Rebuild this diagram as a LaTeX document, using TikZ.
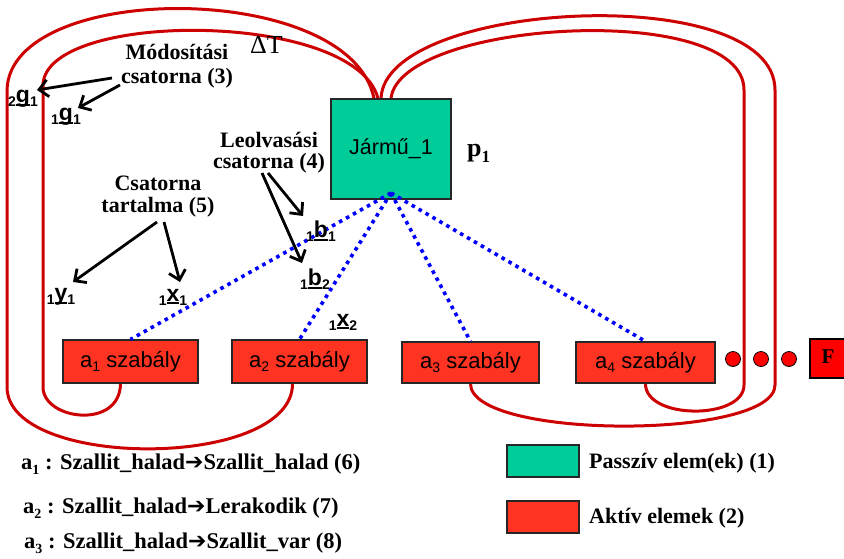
\documentclass[tikz,border=0pt]{standalone}
\usepackage{fontspec}
\setmainfont{Liberation Serif}
\newfontfamily\arialf{Liberation Sans}
\newfontfamily\dejavuf{DejaVu Sans}
\usetikzlibrary{arrows.meta,calc}
\definecolor{loopred}{RGB}{204,0,0}
\definecolor{boxred}{RGB}{255,51,34}
\definecolor{boxgreen}{RGB}{0,204,153}
\definecolor{pureRed}{RGB}{255,0,0}
\definecolor{dotblue}{RGB}{0,0,255}
\newcommand\ulx[1]{\setbox0=\hbox{#1}\rlap{\rule[-3.2pt]{\wd0}{1.9pt}}\box0}
\newcommand\sublab[3]{{\fontsize{14}{14}\selectfont\raisebox{-4pt}{#1}}\ulx{#2}{\fontsize{14}{14}\selectfont\raisebox{-4pt}{#3}}}
\newcommand\asub[1]{a\raisebox{-4pt}{\fontsize{14}{14}\selectfont #1}}
\newcommand\ssub[1]{a\raisebox{-5pt}{\fontsize{14}{14}\selectfont #1}}
\newcommand\harr{{\dejavuf\bfseries\fontsize{22}{22}\selectfont ➔}}
\begin{document}
\begin{tikzpicture}[x=1pt,y=-1pt,
  redline/.style={draw=loopred,line width=3pt},
  rulebox/.style={draw=black!85,line width=1.2pt,fill=boxred,minimum height=42pt,inner sep=0pt,font=\arialf\fontsize{22}{22}\selectfont},
  greenbox/.style={draw=black!85,line width=1.2pt,fill=boxgreen,inner sep=0pt},
  lbl/.style={font=\bfseries\fontsize{22}{22}\selectfont,inner sep=0pt},
  rlbl/.style={font=\bfseries\fontsize{22.5}{22.5}\selectfont,inner sep=0pt},
  sublbl/.style={font=\arialf\bfseries\fontsize{23}{23}\selectfont,inner sep=0pt},
  arr/.style={line width=2.8pt,-{Straight Barb[length=9pt,width=17pt,line width=2.8pt]}},
  bluedot/.style={draw=dotblue,line width=3.6pt,dash pattern=on 3.6pt off 4.4pt},
  dotc/.style={circle,draw=black,line width=0.8pt,fill=pureRed,minimum size=15pt,inner sep=0pt}
]
\useasboundingbox (0,0) rectangle (844,558);
% boxes (positions)
\path node[greenbox,minimum width=120pt,minimum height=100pt,font=\arialf\fontsize{21.5}{21.5}\selectfont] (jar) at (391,149) {Jármű\_1};
\path node[rulebox,minimum width=135pt,minimum height=43pt] (a1) at (130.5,361.5) {\asub{1} szabály};
\path node[rulebox,minimum width=135pt,minimum height=43pt] (a2) at (299.5,361.5) {\asub{2} szabály};
\path node[rulebox,minimum width=137pt,minimum height=41pt] (a3) at (470.5,362.5) {\asub{3} szabály};
\path node[rulebox,minimum width=139pt,minimum height=41pt] (a4) at (645.5,362.5) {\asub{4} szabály};
% loop end points
\coordinate (lo1) at ($(jar.north)+(-17,0)$);
\coordinate (li1) at ($(jar.north)+(-13,0)$);
\coordinate (ro1) at ($(jar.north)+(-10,0)$);
\coordinate (ri1) at ($(jar.north)+(0,0)$);
\coordinate (a1b) at ($(a1.south)+(-10,0)$);
\coordinate (a2b) at ($(a2.south)+(-7,0)$);
\coordinate (a3b) at (a3.south);
\coordinate (a4b) at (a4.south);
% red loops
\draw[redline] (lo1) .. controls (350,-20) and (10,-20) .. (7,90) -- (7,387)
  .. controls (7,470) and (293,470) .. (a2b);
\draw[redline] (li1) .. controls (355,10) and (45,10) .. (43,85) -- (43,387)
  .. controls (43,420) and (120,430) .. (a1b);
\draw[redline] (ro1) .. controls (385,0) and (775,-20) .. (775,90) -- (775,385)
  .. controls (775,440) and (470,440) .. (a3b);
\draw[redline] (ri1) .. controls (400,20) and (744,0) .. (744,90) -- (744,385)
  .. controls (744,420) and (645,420) .. (a4b);
% redraw boxes on top
\node[greenbox,minimum width=120pt,minimum height=100pt,font=\arialf\fontsize{21.5}{21.5}\selectfont] at (391,149) {Jármű\_1};
\node[rulebox,minimum width=135pt,minimum height=43pt] at (130.5,361.5) {\asub{1} szabály};
\node[rulebox,minimum width=135pt,minimum height=43pt] at (299.5,361.5) {\asub{2} szabály};
\node[rulebox,minimum width=137pt,minimum height=41pt] at (470.5,362.5) {\asub{3} szabály};
\node[rulebox,minimum width=139pt,minimum height=41pt] at (645.5,362.5) {\asub{4} szabály};
% dots and F
\node[dotc] (d1) at (733,359) {};
\node[dotc] (d2) at (761,359) {};
\node[dotc] (d3) at (789,359) {};
\node[draw=black,line width=1.2pt,fill=pureRed,minimum width=36pt,minimum height=39pt,inner sep=0pt,font=\bfseries\fontsize{21}{21}\selectfont] (F) at (828,358.5) {\raisebox{3pt}{F}\hspace{6pt}};
% blue dotted
\coordinate (hub) at (391,193);
\draw[bluedot] (hub) -- (a1.north);
\draw[bluedot] (hub) -- (a2.north);
\draw[bluedot] (hub) -- (a3.north);
\draw[bluedot] (hub) -- (a4.north);
% labels
\node[font=\fontsize{26}{26}\selectfont,inner sep=0pt,anchor=base west] (dT) at (250,53) {ΔT};
\node[inner sep=0pt,anchor=base west] (p1) at (467,156) {\bfseries\fontsize{26}{26}\selectfont p\raisebox{-6pt}{\fontsize{17}{17}\selectfont 1}};
\node[lbl,anchor=base] (mod1) at (177,59) {Módosítási};
\node[lbl,anchor=base] (mod2) at (177,83) {csatorna (3)};
\node[lbl,anchor=base] (leo1) at (269,147) {Leolvasási};
\node[lbl,anchor=base] (leo2) at (269,168) {csatorna (4)};
\node[lbl,anchor=base] (cs1) at (158,190) {Csatorna};
\node[lbl,anchor=base] (cs2) at (158,212) {tartalma (5)};
% sub labels
\node[sublbl] (g2) at (23,99) {\sublab{2}{g}{1}};
\node[sublbl] (g1) at (66,117) {\sublab{1}{g}{1}};
\node[sublbl] (b1) at (321,231) {\sublab{1}{b}{1}};
\node[sublbl] (b2) at (315,279) {\sublab{1}{b}{2}};
\node[sublbl] (y1) at (61,297) {\sublab{1}{y}{1}};
\node[sublbl] (x1) at (173,297) {\sublab{1}{x}{1}};
\node[sublbl] (x2) at (343,322) {\sublab{1}{x}{2}};
% arrows
\coordinate (m1s) at (112,78); \coordinate (m1e) at (37,90);
\coordinate (m2s) at (120,85); \coordinate (m2e) at (78,108);
\coordinate (l1s) at (268,173); \coordinate (l1e) at (303,216);
\coordinate (l2s) at (262,173); \coordinate (l2e) at (302,263);
\coordinate (c1s) at (157,222); \coordinate (c1e) at (73,282);
\coordinate (c2s) at (164,222); \coordinate (c2e) at (180,282);
\draw[arr] (m1s) -- (m1e);
\draw[arr] (m2s) -- (m2e);
\draw[arr] (l1s) -- (l1e);
\draw[arr] (l2s) -- (l2e);
\draw[arr] (c1s) -- (c1e);
\draw[arr] (c2s) -- (c2e);
% bottom rules
\node[rlbl,anchor=base west] (r1) at (21,469) {\ssub{1} : Szallit\_halad\harr Szallit\_halad (6)};
\node[rlbl,anchor=base west] (r2) at (23,513) {\ssub{2} : Szallit\_halad\harr Lerakodik (7)};
\node[rlbl,anchor=base west] (r3) at (24,548) {\ssub{3} : Szallit\_halad\harr Szallit\_var (8)};
% legend
\node[greenbox,minimum width=72pt,minimum height=32pt] (lg) at (543,461) {};
\node[rulebox,minimum width=72pt,minimum height=32pt] (lr) at (543,517) {};
\node[lbl,anchor=west] (lgt) at (589,463) {Passzív elem(ek) (1)};
\node[lbl,anchor=west] (lrt) at (589,518) {Aktív elemek (2)};
\end{tikzpicture}
\end{document}
